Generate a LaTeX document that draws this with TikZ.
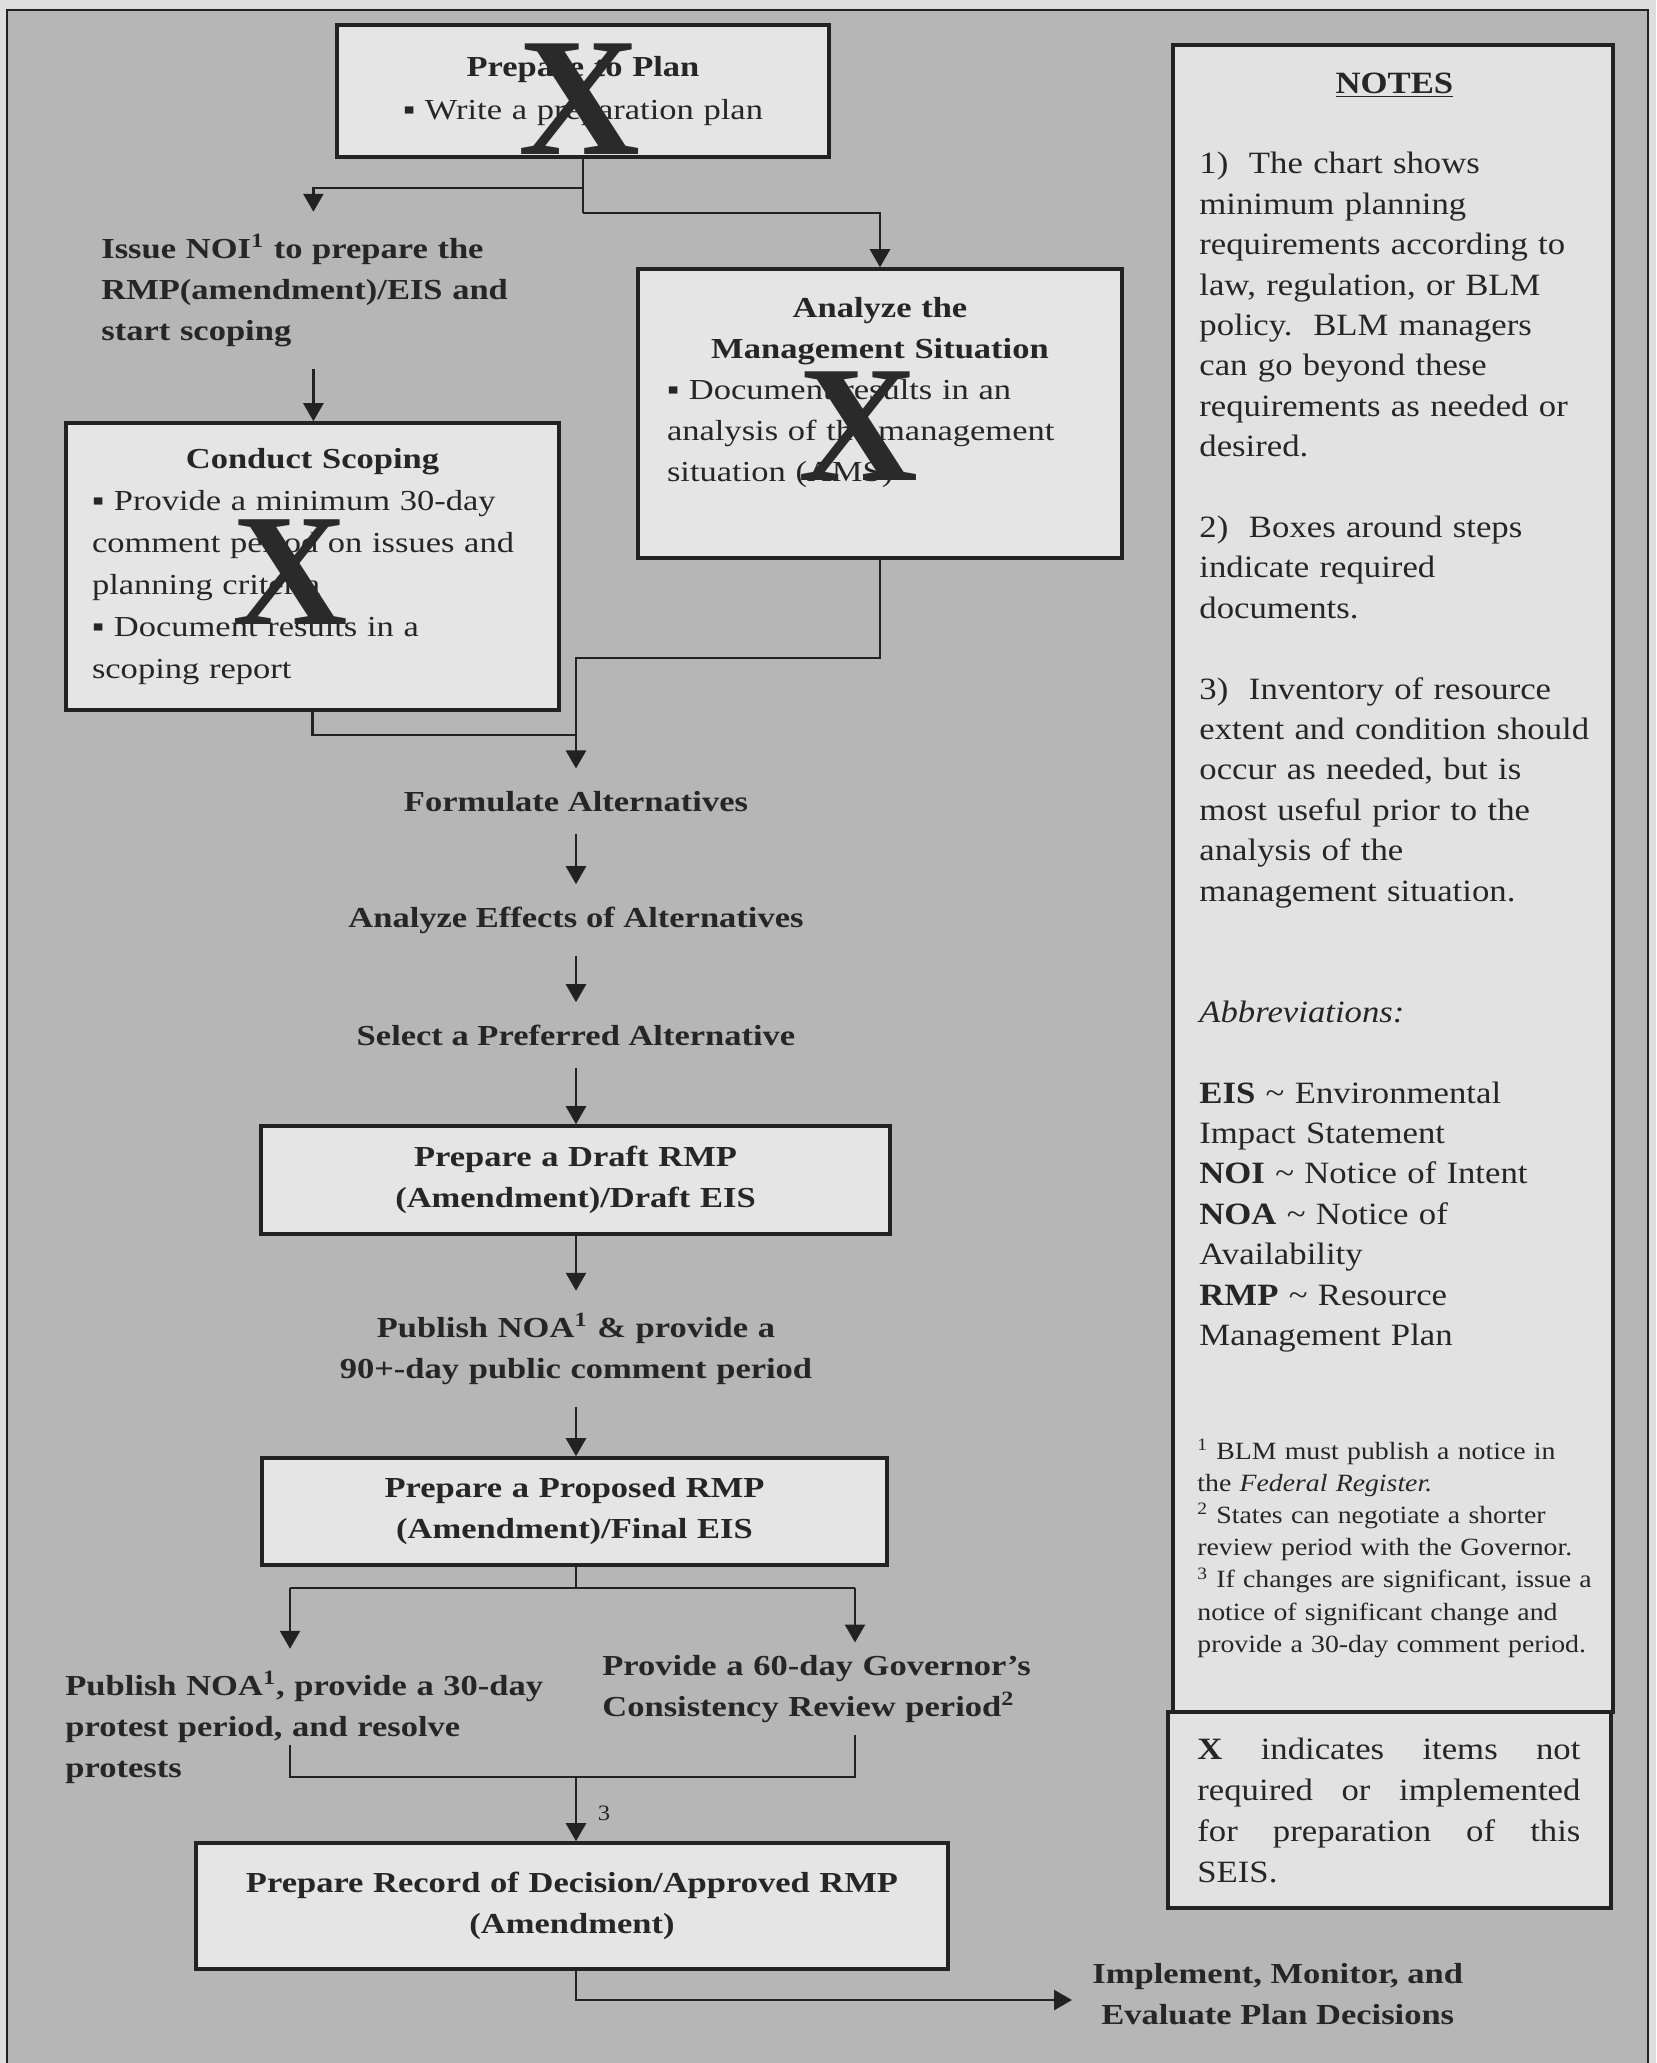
\documentclass[tikz,border=0pt]{standalone}
\usepackage{fontspec}
\setmainfont{Liberation Serif}
\newfontfamily\chartfont[FakeStretch=1.19]{Liberation Serif}
\newfontfamily\notefont[FakeStretch=1.12]{Liberation Serif}
\newfontfamily\xfont{Liberation Serif}
\usetikzlibrary{arrows.meta}
\definecolor{bgout}{HTML}{DEDEDE}
\definecolor{bg}{HTML}{B6B6B6}
\definecolor{boxfill}{HTML}{E5E5E5}
\definecolor{notefill}{HTML}{E2E2E2}
\definecolor{linec}{HTML}{222222}
\definecolor{txt}{HTML}{262626}
\definecolor{xcol}{HTML}{2A2A2A}
\newcommand\cf{\chartfont\fontsize{14.5}{20.5}\selectfont}
\newcommand\ctr[1]{\makebox[\linewidth][c]{#1}}
\tikzset{
  box/.style={draw=linec, line width=1.8pt, fill=boxfill, inner sep=0pt, text=txt, font=\cf},
  nbox/.style={draw=linec, line width=1.6pt, fill=notefill, inner sep=0pt},
  lbl/.style={font=\cf\bfseries, text=txt, inner xsep=0pt, inner ysep=11pt},
  ln/.style={draw=linec, line width=1.3pt},
  arr/.style={draw=linec, line width=1.3pt, -{Triangle[length=9pt,width=10pt]}},
  bigx/.style={text=xcol, inner sep=0pt},
  ntext/.style={font=\notefont\fontsize{15.5}{20.2}\selectfont, text=txt, inner sep=0pt, text width=205pt, align=left},
  fntext/.style={font=\notefont\fontsize{12.4}{16.1}\selectfont, text=txt, inner sep=0pt, text width=205pt, align=left},
}
\begin{document}
\begin{tikzpicture}[x=0.5pt,y=-0.5pt, line join=miter]
\useasboundingbox (0,0) rectangle (1656,2063);
\fill[bgout] (0,0) rectangle (1656,2063);
\fill[bg] (7,10) rectangle (1648,2063);
\draw[linec, line width=1pt] (7,2063) -- (7,10) -- (1648,10) -- (1648,2063);

% boxes
\node[box, minimum width=246pt, minimum height=66pt, text width=240pt, align=center,
      font=\chartfont\fontsize{14.5}{21.5}\selectfont] (prep) at (583,91)
  {{\bfseries Prepare to Plan}\\ ▪ Write a preparation plan};
\node[box, minimum width=242pt, minimum height=144.5pt, text width=213pt, align=left] (analyze) at (880,413.5)
  {\ctr{\bfseries Analyze the}\\ \ctr{\bfseries Management Situation}\\ ▪ Document results in an\\ analysis of the management\\ situation (AMS)\rule[-24pt]{0pt}{24pt}};
\node[box, minimum width=246.5pt, minimum height=143.5pt, text width=220.5pt, align=left,
      font=\chartfont\fontsize{14.5}{21}\selectfont] (conduct) at (312.5,566.5)
  {\ctr{\bfseries Conduct Scoping}\\ ▪ Provide a minimum 30-day\\ comment period on issues and\\ planning criteria\\ ▪ Document results in a\\ scoping report};
\node[box, minimum width=314.5pt, minimum height=54pt, text width=300pt, align=center,
      font=\cf\bfseries] (draft) at (575.5,1180)
  {Prepare a Draft RMP\\ (Amendment)/Draft EIS};
\node[box, minimum width=312.5pt, minimum height=53.5pt, text width=300pt, align=center,
      font=\cf\bfseries] (proposed) at (574.5,1511.5)
  {Prepare a Proposed RMP\\ (Amendment)/Final EIS};
\node[box, minimum width=376pt, minimum height=63pt, text width=365pt, align=center,
      font=\cf\bfseries] (record) at (572,1906)
  {Prepare Record of Decision/Approved RMP\\ (Amendment)};

% labels
\node[lbl, text width=212pt, align=left, anchor=base west] (issue) at (101,258)
  {Issue NOI\textsuperscript{1} to prepare the\\ RMP(amendment)/EIS and\\ start scoping};
\node[lbl, anchor=base] (form) at (576,811) {Formulate Alternatives};
\node[lbl, anchor=base] (effects) at (576,927) {Analyze Effects of Alternatives};
\node[lbl, anchor=base] (select) at (576,1045) {Select a Preferred Alternative};
\node[lbl, text width=300pt, align=center, anchor=base] (noa) at (576,1337)
  {Publish NOA\textsuperscript{1} \& provide a\\ 90+-day public comment period};
\node[lbl, text width=255pt, align=left, anchor=base west] (pubL) at (65,1695)
  {Publish NOA\textsuperscript{1}, provide a 30-day\\ protest period, and resolve\\ protests};
\node[lbl, text width=235pt, align=left, anchor=base west, inner ysep=6pt] (gov) at (602,1675)
  {Provide a 60-day Governor’s\\ Consistency Review period\textsuperscript{2}};
\node[lbl, align=center, anchor=west, inner xsep=10pt] (impl) at (1072,1994)
  {Implement, Monitor, and\\ Evaluate Plan Decisions};
\node[font=\notefont\fontsize{11}{11}\selectfont, text=txt, inner sep=0pt] (n3) at (604,1813) {3};

% connector points
\coordinate (p1) at (583,188);
\coordinate (p2) at (583,213);
\coordinate (a1) at (880,658);
\coordinate (j1) at (576,735);
\coordinate (s0) at (576,1588);
\coordinate (sL) at (290,1588);
\coordinate (sR) at (855,1588);
\coordinate (mL1) at (290,1745);
\coordinate (mL2) at (290,1777);
\coordinate (mR1) at (855,1735);
\coordinate (mR2) at (855,1777);
\coordinate (m0) at (576,1777);
\coordinate (f1) at (576,2000);

% connectors
\draw[ln] (prep.south) -- (p2);
\draw[arr] (p1) -| (issue.north);
\draw[arr] (p2) -| (analyze.north);
\draw[arr] (issue.south) -- (issue.south |- conduct.north);
\draw[ln] (conduct.south) |- (j1);
\draw[arr] (analyze.south) -- (a1) -| (form.north);
\draw[arr] (form.south) -- (effects.north);
\draw[arr] (effects.south) -- (select.north);
\draw[arr] (select.south) -- (select.south |- draft.north);
\draw[arr] (draft.south -| noa.north) -- (noa.north);
\draw[arr] (noa.south) -- (noa.south |- proposed.north);
\draw[ln] (proposed.south -| s0) -- (s0);
\draw[ln] (sL) -- (sR);
\draw[arr] (sL) -- (sL |- pubL.north);
\draw[arr] (sR) -- (sR |- gov.north);
\draw[ln] (mL1) -- (mL2) -- (mR2) -- (mR1);
\draw[arr] (m0) -- (m0 |- record.north);
\draw[arr] (record.south -| f1) -- (f1) -- (f1 -| impl.west);

% big X marks
\node[bigx, font=\xfont\bfseries\fontsize{84.5}{84.5}\selectfont] (x1) at (580,99) {X};
\node[bigx, font=\xfont\bfseries\fontsize{83}{83}\selectfont] (x2) at (858,426) {X};
\node[bigx, font=\xfont\bfseries\fontsize{80}{80}\selectfont] (x3) at (290,572) {X};

% notes
\node[nbox, minimum width=220pt, minimum height=833.5pt] (notesbox) at (1393,878.5) {};
\node[nbox, minimum width=221.5pt, minimum height=98pt] (xbox) at (1389.5,1810) {};
\node[ntext, anchor=base west] (notestext) at (1199,93)
  {\makebox[195pt][c]{\bfseries\underline{NOTES}}\\[20.2pt]
   1)\ \ The chart shows\\
   minimum planning\\
   requirements according to\\
   law, regulation, or BLM\\
   policy.\ \ BLM managers\\
   can go beyond these\\
   requirements as needed or\\
   desired.\\[20.2pt]
   2)\ \ Boxes around steps\\
   indicate required\\
   documents.\\[20.2pt]
   3)\ \ Inventory of resource\\
   extent and condition should\\
   occur as needed, but is\\
   most useful prior to the\\
   analysis of the\\
   management situation.\\[40.4pt]
   \textit{Abbreviations:}\\[20.2pt]
   \textbf{EIS} \textasciitilde{} Environmental\\
   Impact Statement\\
   \textbf{NOI} \textasciitilde{} Notice of Intent\\
   \textbf{NOA} \textasciitilde{} Notice of\\
   Availability\\
   \textbf{RMP} \textasciitilde{} Resource\\
   Management Plan};
\node[fntext, anchor=base west] (fn) at (1197,1459)
  {\textsuperscript{1} BLM must publish a notice in\\
   the \textit{Federal Register.}\\
   \textsuperscript{2} States can negotiate a shorter\\
   review period with the Governor.\\
   \textsuperscript{3} If changes are significant, issue a\\
   notice of significant change and\\
   provide a 30-day comment period.};
\node[ntext, font=\notefont\fontsize{15.5}{20.65}\selectfont, text width=191.5pt, anchor=base west] (xnote) at (1197,1759)
  {\makebox[191.5pt]{\textbf{X}\hfill indicates\hfill items\hfill not}\\
   \makebox[191.5pt]{required\hfill or\hfill implemented}\\
   \makebox[191.5pt]{for\hfill preparation\hfill of\hfill this}\\
   SEIS.};
\end{tikzpicture}
\end{document}
